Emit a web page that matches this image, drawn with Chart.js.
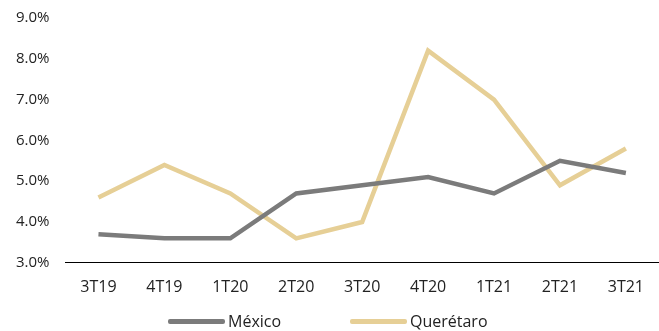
<!DOCTYPE html>
<html>
<head>
<meta charset="utf-8">
<script src="https://cdn.jsdelivr.net/npm/chart.js@4"></script>
<style>
  html, body { margin: 0; padding: 0; background: #fff; overflow: hidden; }
  #wrap { position: relative; width: 659px; height: 331px; overflow: hidden; }
  #chart { position: absolute; left: 0; top: -7px; }
  #legend { position: absolute; left: 0; top: 310px; width: 659px; height: 22px;
            font-family: 'Open Sans', 'DejaVu Sans', sans-serif; font-size: 16px; color: #222; }
  .item { position: absolute; top: 0; display: flex; align-items: center; height: 22px; }
  .swatch { width: 57px; height: 5px; border-radius: 2px; margin-right: 3px; }
</style>
</head>
<body>
<div id="wrap">
  <canvas id="chart" width="659" height="341"></canvas>
  <div id="legend"></div>
</div>
<script>
// Quarter labels and series values (percent)
const quarters = ['3T19', '4T19', '1T20', '2T20', '3T20', '4T20', '1T21', '2T21', '3T21'];
const mexico = [3.7, 3.6, 3.6, 4.7, 4.9, 5.1, 4.7, 5.5, 5.2];
const queretaro = [4.6, 5.4, 4.7, 3.6, 4.0, 8.2, 7.0, 4.9, 5.8];
const seriesNames = ['México', 'Querétaro'];
const seriesColors = ['#7b7b7b', '#e6cf96'];

const fontFamily = "'Open Sans', 'DejaVu Sans', sans-serif";

const chart = new Chart(document.getElementById('chart').getContext('2d'), {
    type: 'line',
    data: {
        labels: quarters,
        datasets: [mexico, queretaro].map((values, i) => ({
            label: seriesNames[i],
            data: values,
            borderColor: seriesColors[i],
            backgroundColor: seriesColors[i],
            borderWidth: 4.5,
            pointRadius: 0,
            tension: 0
        }))
    },
    options: {
        responsive: false,
        animation: false,
        layout: { padding: { left: 0, right: 0, top: 1, bottom: 22 } },
        scales: {
            x: {
                offset: true,
                grid: { display: false, drawTicks: false },
                border: { color: '#000', width: 1 },
                ticks: {
                    color: '#222',
                    padding: 15,
                    font: { family: fontFamily, size: 16 }
                }
            },
            y: {
                min: 3,
                max: 9,
                grid: { display: false, drawTicks: false },
                border: { display: false },
                ticks: {
                    stepSize: 1,
                    color: '#222',
                    padding: 16,
                    font: { family: fontFamily, size: 15 },
                    callback: (v) => v.toFixed(1) + '%'
                }
            }
        },
        plugins: {
            legend: { display: false },
            tooltip: { enabled: false }
        }
    }
});

// Legend below the plot, built from the chart's datasets
const legendEl = document.getElementById('legend');
const legendLeft = [168, 350];
chart.data.datasets.forEach((ds, i) => {
    const item = document.createElement('div');
    item.className = 'item';
    item.style.left = legendLeft[i] + 'px';
    item.innerHTML = `<span class="swatch" style="background:${ds.borderColor}"></span><span>${ds.label}</span>`;
    legendEl.appendChild(item);
});
</script>
</body>
</html>
